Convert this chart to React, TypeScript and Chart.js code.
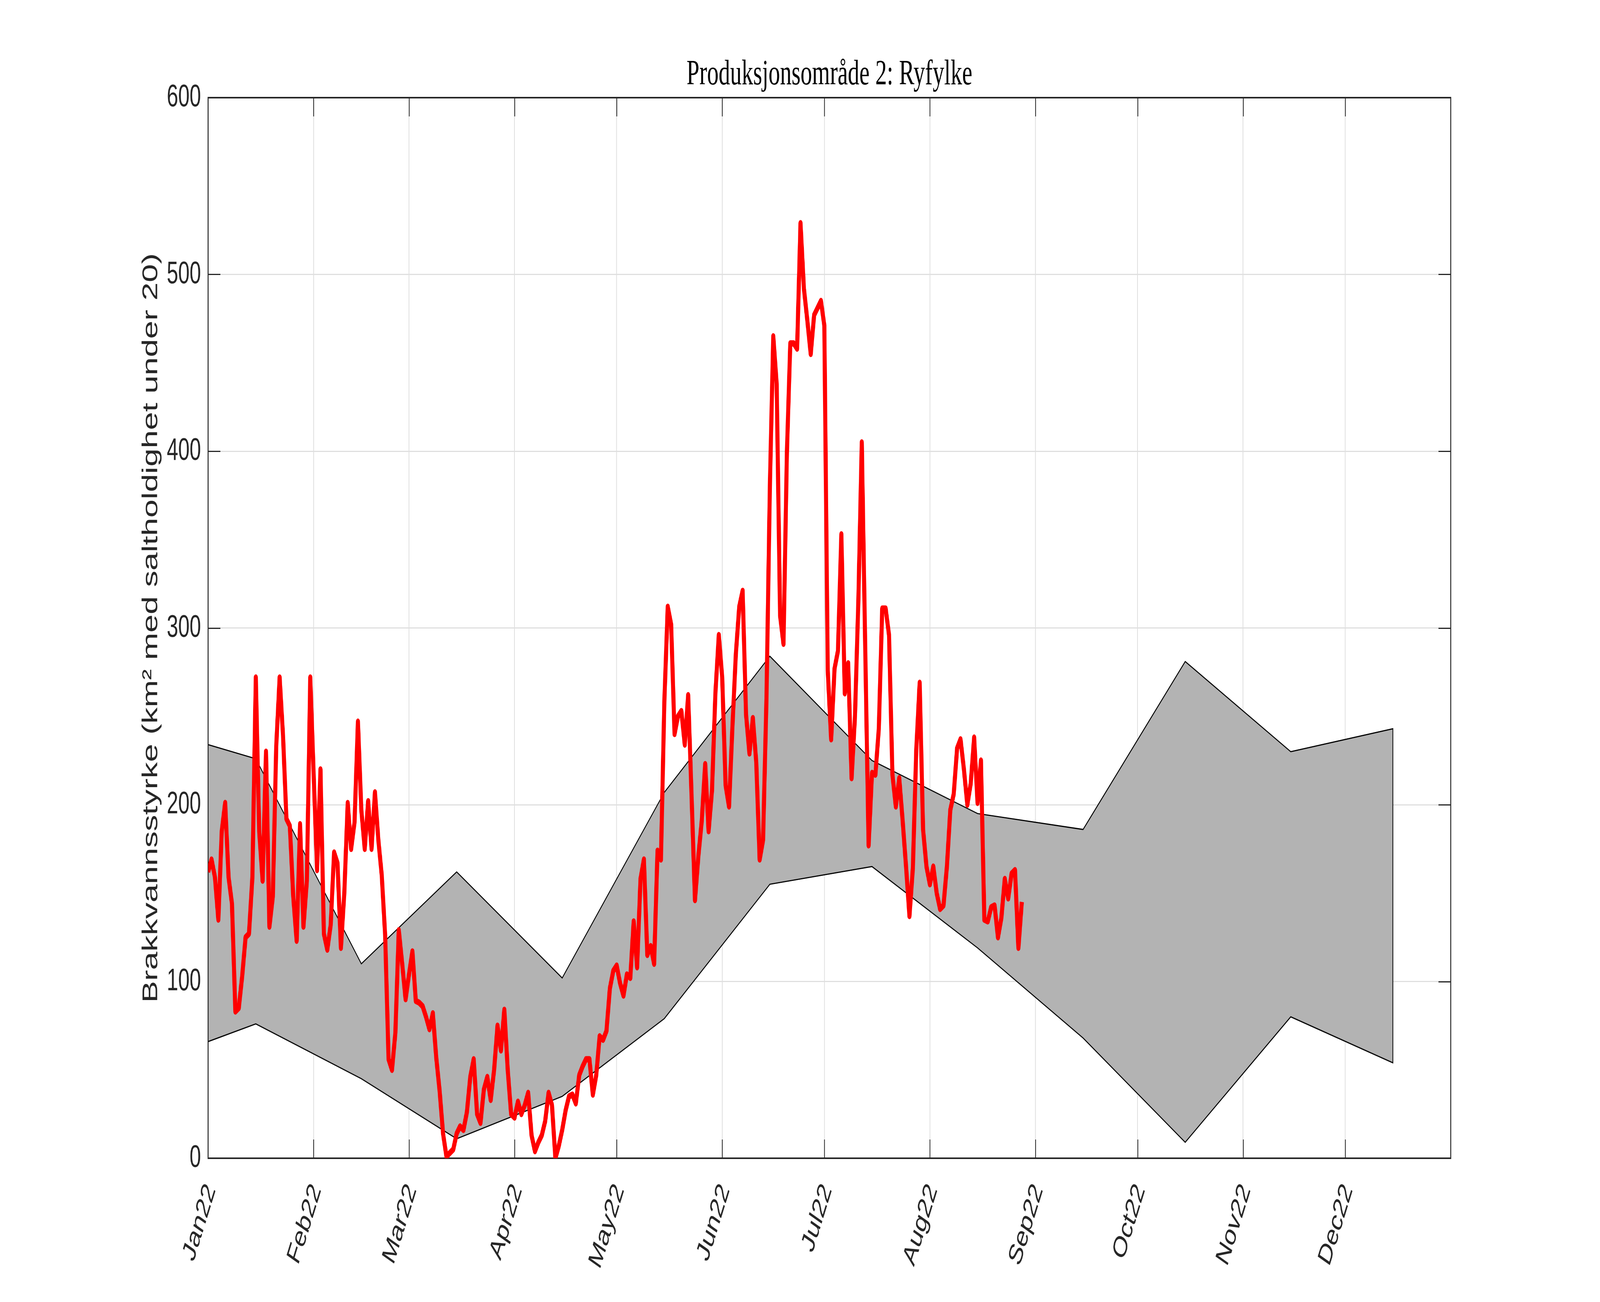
import React, { useEffect, useRef, useState } from "react";
import { Chart, registerables } from "chart.js";

Chart.register(...registerables);

const W = 6250;
const H = 3333;

// ---- data ----
const chartTitle = "Produksjonsområde 2: Ryfylke";
const yAxisTitle = "Brakkvannsstyrke (km² med saltholdighet under 20)";

const monthTickDays = [0, 31, 59, 90, 120, 151, 181, 212, 243, 273, 304, 334];
const monthTickLabels = [
  "Jan22", "Feb22", "Mar22", "Apr22", "May22", "Jun22",
  "Jul22", "Aug22", "Sep22", "Oct22", "Nov22", "Dec22",
];
const yMin = 0;
const yMax = 600;
const yStep = 100;

// daily observed values, first value on day 0 (1 Jan 2022)
const observedStartDay = 0;
const observedValues = [
  162, 169, 159, 135, 185, 201, 159, 144, 83, 85,
  103, 125, 127, 159, 272, 185, 157, 230, 131, 148,
  233, 272, 239, 192, 188, 148, 123, 189, 131, 157,
  272, 217, 163, 220, 127, 118, 132, 173, 167, 119,
  150, 201, 175, 190, 247, 197, 175, 202, 175, 207,
  180, 160, 126, 56, 50, 71, 129, 110, 90, 104,
  117, 89, 88, 86, 80, 73, 82, 57, 38, 14,
  1, 3, 5, 14, 18, 16, 26, 46, 56, 25,
  20, 39, 46, 33, 50, 75, 61, 84, 50, 25,
  23, 32, 25, 30, 37, 13, 4, 9, 13, 21,
  37, 30, 0, 7, 16, 27, 35, 36, 31, 47,
  52, 56, 56, 36, 47, 69, 67, 72, 96, 106,
  109, 99, 92, 104, 102, 134, 108, 158, 169, 115,
  120, 110, 174, 169, 258, 312, 302, 240, 250, 253,
  234, 262, 205, 146, 171, 191, 223, 185, 208, 263,
  296, 272, 211, 199, 244, 285, 312, 321, 251, 229,
  249, 224, 169, 180, 260, 380, 465, 438, 307, 291,
  399, 461, 461, 458, 529, 492, 474, 455, 477, 481,
  485, 471, 276, 237, 277, 287, 353, 263, 280, 215,
  250, 316, 405, 290, 177, 218, 217, 243, 311, 311,
  296, 217, 199, 215, 191, 165, 137, 164, 231, 269,
  186, 165, 155, 165, 150, 141, 143, 165, 197, 206,
  232, 237, 220, 200, 212, 238, 201, 225, 135, 134,
  142, 143, 125, 136, 158, 147, 161, 163, 119, 145,
];

// reference band (min / max), vertices mid-month
const bandDays = [0, 14, 45, 73, 104, 134, 165, 195, 226, 257, 287, 318, 348];
const bandUpper = [234, 226, 110, 162, 102, 207, 284, 225, 195, 186, 281, 230, 243];
const bandLower = [66, 76, 45, 11, 35, 79, 155, 165, 119, 68, 9, 80, 54];

// ---- styles ----
const AXIS_COLOR = "#262626";
const GRID_COLOR = "#dfdfdf";
const SANS = "'Liberation Sans', Arial, Helvetica, sans-serif";
const SERIF = "'Liberation Serif', 'Times New Roman', serif";

const labelFor = (v: number) => {
  const i = monthTickDays.indexOf(v);
  return i >= 0 ? monthTickLabels[i] : "";
};

const boxPlugin = {
  id: "matlabBox",
  beforeDatasetsDraw(chart: any) {
    const { ctx, chartArea, scales } = chart;
    const { left, right, top, bottom } = chartArea;
    const x = scales.x;
    const y = scales.y;
    const tl = 48;
    ctx.save();
    ctx.strokeStyle = AXIS_COLOR;
    ctx.lineWidth = 3;
    ctx.beginPath();
    for (const t of x.ticks) {
      const px = Math.round(x.getPixelForValue(t.value)) + 0.5;
      ctx.moveTo(px, bottom);
      ctx.lineTo(px, bottom - tl);
      ctx.moveTo(px, top);
      ctx.lineTo(px, top + tl);
    }
    for (const t of y.ticks) {
      const py = Math.round(y.getPixelForValue(t.value)) + 0.5;
      ctx.moveTo(left, py);
      ctx.lineTo(left + tl, py);
      ctx.moveTo(right, py);
      ctx.lineTo(right - tl, py);
    }
    ctx.stroke();
    ctx.lineWidth = 4;
    ctx.strokeRect(left, top, right - left, bottom - top);
    ctx.restore();
  },
};

export default function App() {
  const canvasRef = useRef<HTMLCanvasElement | null>(null);
  const [fit] = useState(() => {
    if (typeof window === "undefined") return { sx: 1, sy: 1 };
    const vw = document.documentElement.clientWidth || window.innerWidth || W;
    const vh = window.innerHeight || document.documentElement.clientHeight || H;
    return { sx: vw / W, sy: vh / H };
  });

  useEffect(() => {
    const canvas = canvasRef.current;
    if (!canvas) return;

    const lowerPts = bandDays.map((d, i) => ({ x: d, y: bandLower[i] }));
    const upperPts = bandDays.map((d, i) => ({ x: d, y: bandUpper[i] }));
    const outlinePts = [...upperPts, ...lowerPts.slice().reverse(), upperPts[0]];
    const obsPts = observedValues.map((v, i) => ({ x: observedStartDay + i, y: v }));

    const chart = new Chart(canvas, {
      type: "line",
      data: {
        datasets: [
          {
            label: "lower",
            data: lowerPts,
            borderWidth: 0,
            borderColor: "rgba(0,0,0,0)",
            pointRadius: 0,
            fill: false,
            order: 4,
          },
          {
            label: "upper",
            data: upperPts,
            borderWidth: 0,
            borderColor: "rgba(0,0,0,0)",
            backgroundColor: "#b3b3b3",
            pointRadius: 0,
            fill: "-1",
            order: 3,
          },
          {
            label: "outline",
            data: outlinePts,
            borderWidth: 3,
            borderColor: "#000000",
            pointRadius: 0,
            fill: false,
            order: 2,
          },
          {
            label: "observed",
            data: obsPts,
            borderWidth: 16,
            borderColor: "#ff0000",
            borderJoinStyle: "round",
            pointRadius: 0,
            fill: false,
            order: 0,
            clip: 0,
          } as any,
        ],
      },
      options: {
        responsive: false,
        animation: false,
        devicePixelRatio: 1,
        events: [],
        layout: { padding: { top: 138, right: 583, bottom: 0, left: 0 } },
        plugins: {
          legend: { display: false },
          tooltip: { enabled: false },
          filler: { drawTime: "beforeDatasetDraw" } as any,
          title: {
            display: true,
            fullSize: false,
            text: chartTitle,
            color: "#000000",
            font: { family: SERIF, size: 90, weight: "normal", lineHeight: 1.2 },
            padding: { top: 0, bottom: 4 },
          },
        },
        scales: {
          x: {
            type: "linear",
            min: 0,
            max: 365,
            afterBuildTicks: (s: any) => {
              s.ticks = monthTickDays.map((v) => ({ value: v }));
            },
            afterFit: (s: any) => {
              s.height = H - 2965;
              s.paddingLeft = 0;
              s.paddingRight = 0;
            },
            ticks: {
              autoSkip: false,
              minRotation: 65,
              maxRotation: 65,
              padding: 52,
              labelOffset: 11,
              color: AXIS_COLOR,
              font: { family: SANS, size: 76, lineHeight: 1.2 },
              callback: (v: any) => labelFor(Number(v)),
            },
            grid: { color: GRID_COLOR, lineWidth: 3, drawTicks: false },
            border: { display: false },
          },
          y: {
            type: "linear",
            min: yMin,
            max: yMax,
            afterFit: (s: any) => {
              s.width = 813;
              s.paddingTop = 0;
              s.paddingBottom = 0;
            },
            ticks: {
              stepSize: yStep,
              padding: 28,
              color: AXIS_COLOR,
              font: { family: SANS, size: 80 },
            },
            title: {
              display: true,
              text: yAxisTitle,
              color: AXIS_COLOR,
              font: { family: SANS, size: 84, lineHeight: 1.2 },
              padding: { top: 540, bottom: 0 },
            },
            grid: { color: GRID_COLOR, lineWidth: 3, drawTicks: false },
            border: { display: false },
          },
        },
      },
      plugins: [boxPlugin],
    });

    return () => chart.destroy();
  }, []);

  return (
    <div
      style={{
        position: "fixed",
        left: 0,
        top: 0,
        width: W * fit.sx,
        height: H * fit.sy,
        overflow: "hidden",
        background: "#ffffff",
      }}
    >
      <canvas
        ref={canvasRef}
        width={W}
        height={H}
        style={{
          width: W,
          height: H,
          display: "block",
          transform: `scale(${fit.sx}, ${fit.sy})`,
          transformOrigin: "0 0",
        }}
      />
    </div>
  );
}
